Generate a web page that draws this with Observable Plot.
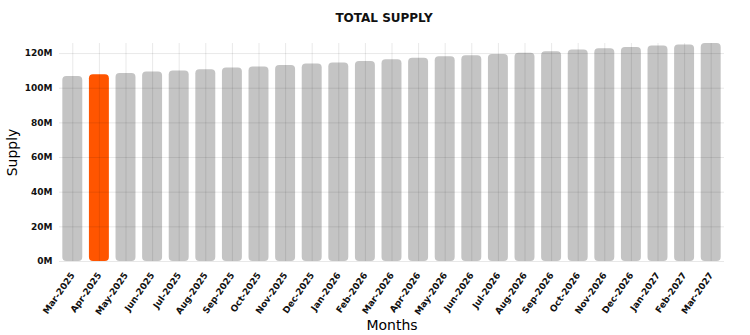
<!DOCTYPE html>
<html>
<head>
<meta charset="utf-8">
<script src="https://cdn.jsdelivr.net/npm/d3@7"></script>
<script src="https://cdn.jsdelivr.net/npm/@observablehq/plot@0.6"></script>
<style>
  html, body { margin: 0; padding: 0; background: #fff; }
  #wrap { width: 750px; height: 335px; position: relative; overflow: hidden; }
  #title { height: 30px; line-height: 36px; text-align: center; font-family: "DejaVu Sans", sans-serif;
           font-weight: 900; font-size: 12px; color: #111; padding-left: 18px; }
  svg { display: block; }
</style>
</head>
<body>
<div id="wrap">
  <div id="title">TOTAL SUPPLY</div>
  <div id="chart"></div>
</div>
<script>
const months = ["Mar-2025","Apr-2025","May-2025","Jun-2025","Jul-2025","Aug-2025","Sep-2025","Oct-2025","Nov-2025","Dec-2025","Jan-2026","Feb-2026","Mar-2026","Apr-2026","May-2026","Jun-2026","Jul-2026","Aug-2026","Sep-2026","Oct-2026","Nov-2026","Dec-2026","Jan-2027","Feb-2027","Mar-2027"];
const supplyM = [106.7,107.7,108.5,109.3,110.0,110.6,111.6,112.3,113.1,113.9,114.6,115.4,116.4,117.3,118.1,118.7,119.4,120.2,121.0,122.0,122.7,123.5,124.3,125.0,125.8];
const highlightMonth = "Apr-2025";
const yTicksM = [0,20,40,60,80,100,120];

const data = months.map((m, i) => ({month: m, supply: supplyM[i] * 1e6}));
const maxVal = d3.max(data, d => d.supply);

const chart = Plot.plot({
  width: 750,
  height: 305,
  marginLeft: 59,
  marginRight: 26,
  marginTop: 13,
  marginBottom: 74,
  style: {fontFamily: "DejaVu Sans, sans-serif", fontSize: "9px", fontWeight: "bold", color: "#111", background: "#fff"},
  x: {domain: months, paddingInner: 0.25, paddingOuter: 0.125, round: false, label: null},
  y: {domain: [0, maxVal], label: null},
  marks: [
    Plot.barY(data, {x: "month", y: "supply", rx: 4,
      fill: d => d.month === highlightMonth ? "#ff5500" : "#c4c4c4"}),
    Plot.gridX(months, {stroke: "#000", strokeOpacity: 0.09, strokeWidth: 1}),
    Plot.gridY(yTicksM.map(v => v * 1e6), {stroke: "#000", strokeOpacity: 0.09, strokeWidth: 1}),
    Plot.axisY(yTicksM.map(v => v * 1e6), {tickSize: 0, tickPadding: 7, tickFormat: d => (d / 1e6) + "M",
      label: "Supply", labelAnchor: "center", labelOffset: 52, labelArrow: false}),
    Plot.axisX({tickSize: 0, tickPadding: 12, tickRotate: -55,
      label: "Months", labelAnchor: "center", labelOffset: 68, labelArrow: false})
  ]
});
d3.select(chart).selectAll("[aria-label='y-axis label'] text, [aria-label='x-axis label'] text")
  .style("font-size", "14px").style("font-weight", "normal").style("fill", "#000");
document.getElementById("chart").appendChild(chart);
</script>
</body>
</html>
